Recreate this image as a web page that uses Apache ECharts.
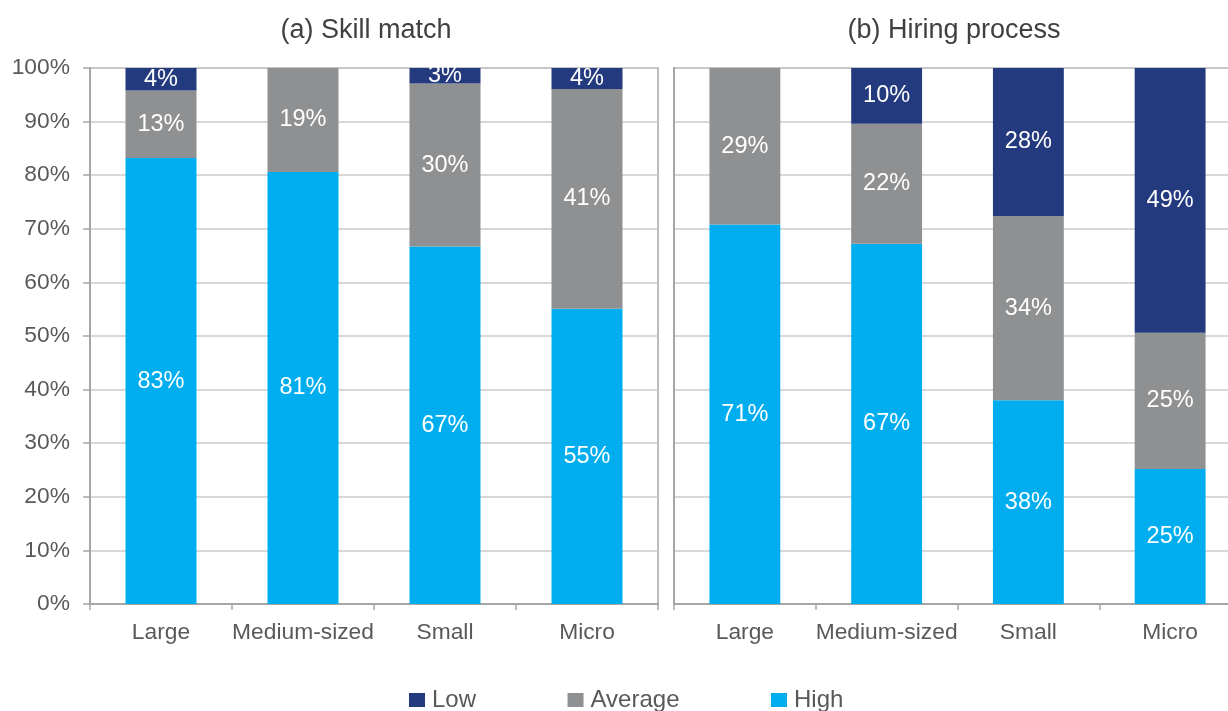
<!DOCTYPE html>
<html>
<head>
<meta charset="utf-8">
<script src="https://cdn.jsdelivr.net/npm/echarts@6/dist/echarts.min.js"></script>
<style>
html,body{margin:0;padding:0;background:#fff;overflow:hidden;}
#c{width:1241px;height:711px;}
</style>
</head>
<body>
<div id="c"></div>
<script>
const categories = ['Large', 'Medium-sized', 'Small', 'Micro'];
const yTicks = [0, 10, 20, 30, 40, 50, 60, 70, 80, 90, 100];
const panelTitles = ['(a) Skill match', '(b) Hiring process'];
const seriesNames = ['Low', 'Average', 'High'];

// (a) Skill match
const skillHigh = [83.2, 80.6, 66.7, 55.1];
const skillAverage = [12.6, 19.4, 30.4, 41.0];
const skillLow = [4.2, 0, 2.9, 3.9];

// (b) Hiring process
const hiringHigh = [70.8, 67.2, 38.0, 25.2];
const hiringAverage = [29.2, 22.4, 34.4, 25.4];
const hiringLow = [0, 10.4, 27.6, 49.4];

const COLORS = { Low: '#243a7e', Average: '#8f9092', High: '#00aeef' };
const FONT = 'Liberation Sans, Arial, sans-serif';
const axisGray = '#a6a6a6';
const gridGray = '#cbcbcb';
const textGray = '#595959';

const chart = echarts.init(document.getElementById('c'), null, { renderer: 'canvas' });

function gridCfg(left, width) {
  return { left: left, width: width, top: 68, bottom: 107, show: true, borderColor: axisGray, borderWidth: 1.5, backgroundColor: 'transparent', containLabel: false };
}

function xAxisCfg(idx) {
  return {
    type: 'category', gridIndex: idx, data: categories,
    axisLine: { show: true, lineStyle: { color: axisGray, width: 2 } },
    axisTick: { show: true, alignWithLabel: false, length: 6, lineStyle: { color: axisGray, width: 1.5 } },
    axisLabel: { color: textGray, fontSize: 22.8, fontFamily: FONT, margin: 17, interval: 0 },
    splitLine: { show: false }
  };
}

function yAxisCfg(idx, showLabels) {
  return {
    type: 'value', gridIndex: idx, min: 0, max: 100, interval: 10,
    axisLine: { show: true, lineStyle: { color: axisGray, width: 2 } },
    axisTick: { show: showLabels, length: 7, lineStyle: { color: axisGray, width: 1.5 } },
    axisLabel: { show: showLabels, color: textGray, fontSize: 22.8, fontFamily: FONT, margin: 20,
      formatter: v => yTicks.indexOf(v) >= 0 ? v + '%' : '' },
    splitLine: { show: true, lineStyle: { color: gridGray, width: 1.5 } }
  };
}

function barSeries(name, data, idx) {
  return {
    name: name, type: 'bar', stack: 'p' + idx, xAxisIndex: idx, yAxisIndex: idx,
    data: data, barWidth: '50%',
    itemStyle: { color: COLORS[name] },
    label: {
      show: true, position: 'inside', color: '#ffffff', fontSize: 23.5, fontFamily: FONT,
      formatter: p => (p.value < 0.5 ? '' : Math.round(p.value) + '%')
    },
    emphasis: { disabled: true },
    animation: false
  };
}

const option = {
  backgroundColor: '#ffffff',
  animation: false,
  title: [
    { text: panelTitles[0], left: 366, top: 17, textAlign: 'center', padding: 0,
      textStyle: { color: '#404040', fontSize: 27, fontWeight: 'normal', fontFamily: FONT } },
    { text: panelTitles[1], left: 954, top: 17, textAlign: 'center', padding: 0,
      textStyle: { color: '#404040', fontSize: 27, fontWeight: 'normal', fontFamily: FONT } }
  ],
  legend: {
    data: seriesNames, left: 409, top: 688, itemGap: 91.5, itemWidth: 16, itemHeight: 14,
    icon: 'rect', padding: 0,
    textStyle: { color: textGray, fontSize: 24, fontFamily: FONT, padding: [0, 0, 0, 2] },
    selectedMode: false
  },
  grid: [gridCfg(90, 568), gridCfg(674, 567)],
  xAxis: [xAxisCfg(0), xAxisCfg(1)],
  yAxis: [yAxisCfg(0, true), yAxisCfg(1, false)],
  series: [
    barSeries('High', skillHigh, 0),
    barSeries('Average', skillAverage, 0),
    barSeries('Low', skillLow, 0),
    barSeries('High', hiringHigh, 1),
    barSeries('Average', hiringAverage, 1),
    barSeries('Low', hiringLow, 1)
  ]
};
chart.setOption(option);
</script>
</body>
</html>
